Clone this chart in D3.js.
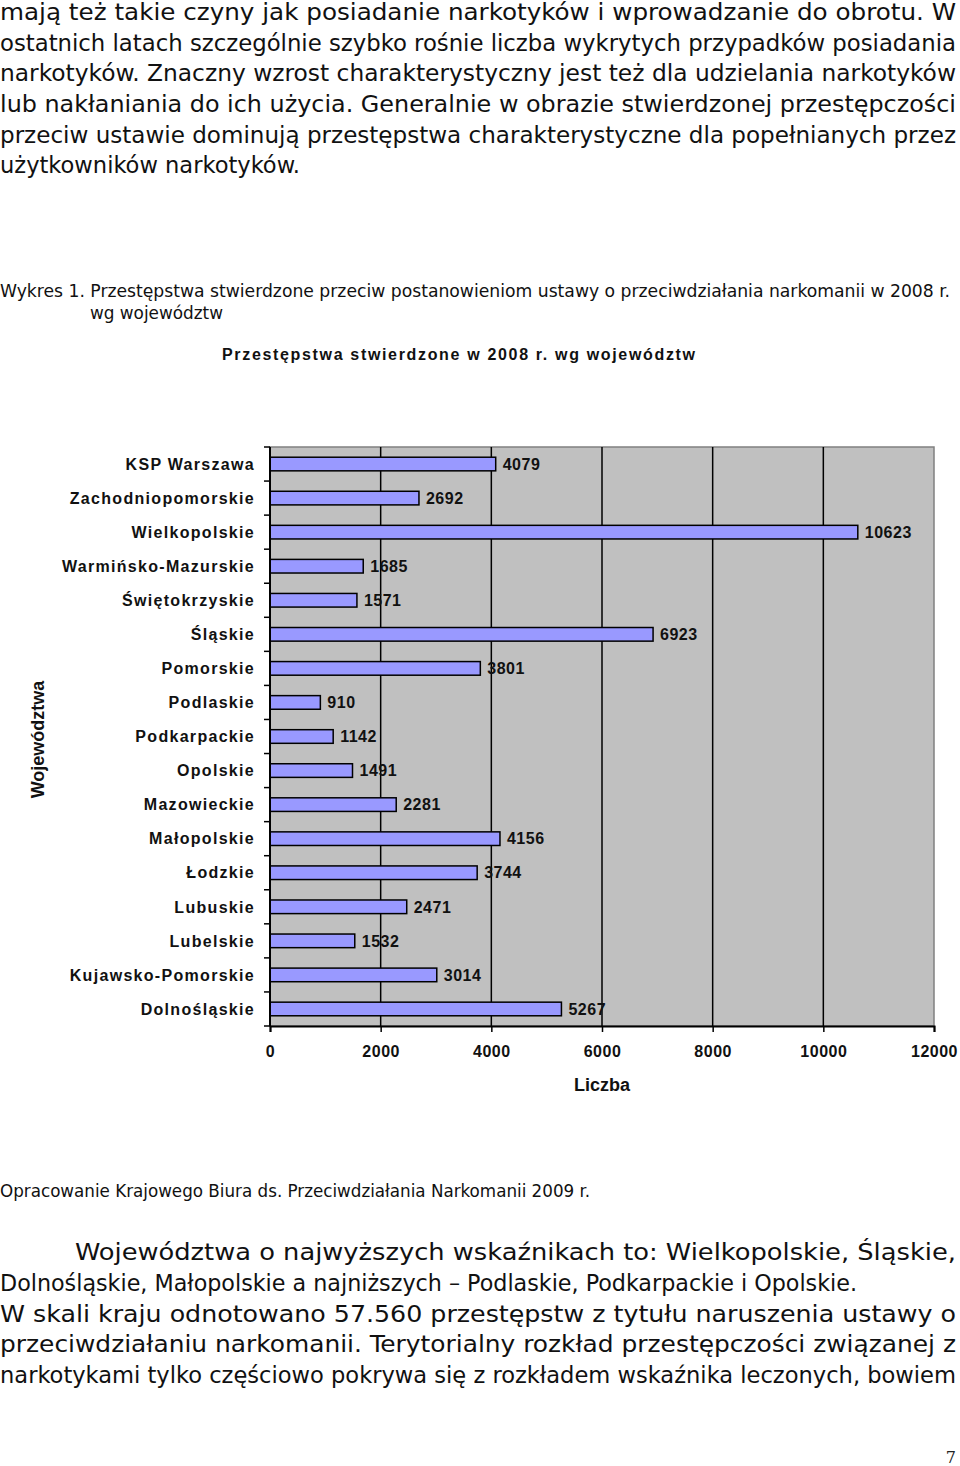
<!DOCTYPE html>
<html>
<head>
<meta charset="utf-8">
<script src="https://cdn.jsdelivr.net/npm/d3@7"></script>
<style>
  body { margin: 0; background: #fff; }
  svg { display: block; }
  .chart-text { font-family: "Liberation Sans", Arial, Helvetica, sans-serif; font-weight: bold; }
  .body-text { font-family: "DejaVu Sans Condensed", "DejaVu Sans", sans-serif; font-stretch: condensed; }
</style>
</head>
<body>
<div id="wrapper"></div>
<script>
// wojewodztwa, top to bottom as in the chart
const categories = [
  "KSP Warszawa", "Zachodniopomorskie", "Wielkopolskie", "Warmińsko-Mazurskie",
  "Świętokrzyskie", "Śląskie", "Pomorskie", "Podlaskie", "Podkarpackie",
  "Opolskie", "Mazowieckie", "Małopolskie", "Łodzkie", "Lubuskie",
  "Lubelskie", "Kujawsko-Pomorskie", "Dolnośląskie"
];
const values = [
  4079, 2692, 10623, 1685, 1571, 6923, 3801, 910, 1142,
  1491, 2281, 4156, 3744, 2471, 1532, 3014, 5267
];
const xTicks = [0, 2000, 4000, 6000, 8000, 10000, 12000];

const chartTitle = "Przestępstwa stwierdzone w 2008 r. wg województw";
const xTitle = "Liczba";
const yTitle = "Województwa";

// page text around the chart: [text, y, x, width (null = natural)]
const topLines = [
  ["mają też takie czyny jak posiadanie narkotyków i wprowadzanie do obrotu. W", 20, 0, 956],
  ["ostatnich latach szczególnie szybko rośnie liczba wykrytych przypadków posiadania", 51, 0, 956],
  ["narkotyków. Znaczny wzrost charakterystyczny jest też dla udzielania  narkotyków", 81, 0, 956],
  ["lub nakłaniania do ich użycia. Generalnie w obrazie stwierdzonej przestępczości", 112, 0, 956],
  ["przeciw ustawie dominują przestępstwa charakterystyczne dla popełnianych przez", 143, 0, 956],
  ["użytkowników narkotyków.", 173, 0, 300]
];
const bottomLines = [
  ["Województwa o najwyższych wskaźnikach to: Wielkopolskie, Śląskie,", 1260, 75, 881],
  ["Dolnośląskie, Małopolskie a najniższych – Podlaskie, Podkarpackie i Opolskie.", 1291, 0, 857],
  ["W skali kraju odnotowano 57.560 przestępstw z tytułu naruszenia ustawy o", 1322, 0, 956],
  ["przeciwdziałaniu narkomanii. Terytorialny rozkład przestępczości związanej z", 1352, 0, 956],
  ["narkotykami tylko częściowo pokrywa się z rozkładem wskaźnika leczonych, bowiem", 1383, 0, 956]
];

const W = 960, H = 1466;

const svg = d3.select("#wrapper").append("svg")
  .attr("width", W).attr("height", H);

function addLine(g, d, size) {
  const t = g.append("text")
    .attr("class", "body-text")
    .attr("x", d[2]).attr("y", d[1])
    .attr("font-size", size)
    .attr("fill", "#111")
    .text(d[0]);
  if (d[3]) t.attr("textLength", d[3]).attr("lengthAdjust", "spacingAndGlyphs");
}

const topG = svg.append("g");
topLines.forEach(d => addLine(topG, d, 23));
const botG = svg.append("g");
bottomLines.forEach(d => addLine(botG, d, 23));

// caption + source
addLine(svg, ["Wykres 1. Przestępstwa stwierdzone przeciw postanowieniom ustawy o przeciwdziałania narkomanii w 2008 r.", 297, 0, 950], 17);
addLine(svg, ["wg województw", 319, 90, 133], 17);
addLine(svg, ["Opracowanie Krajowego Biura ds. Przeciwdziałania Narkomanii 2009 r.", 1197, 0, 590], 17);

svg.append("text")
  .attr("x", 956).attr("y", 1463)
  .attr("text-anchor", "end")
  .style("font-family", "'DejaVu Serif', 'Liberation Serif', serif")
  .attr("font-size", 16)
  .attr("fill", "#222")
  .text("7");

// ---- the chart ----
const plot = { left: 270, right: 934, top: 447, bottom: 1026 };

const xScale = d3.scaleLinear()
  .domain([0, 12000])
  .range([plot.left, plot.right]);
const yScale = d3.scaleBand()
  .domain(categories)
  .range([plot.top, plot.bottom])
  .paddingInner(0.6)
  .paddingOuter(0.3);

svg.append("text")
  .attr("class", "chart-text")
  .attr("x", 222).attr("y", 360)
  .attr("font-size", 16)
  .attr("fill", "#111")
  .attr("textLength", 473)
  .attr("lengthAdjust", "spacing")
  .text(chartTitle);

// plot background
svg.append("rect")
  .attr("x", plot.left).attr("y", plot.top)
  .attr("width", plot.right - plot.left)
  .attr("height", plot.bottom - plot.top)
  .attr("fill", "#c0c0c0")
  .attr("stroke", "#808080")
  .attr("stroke-width", 1.5);

// gridlines
svg.append("g")
  .selectAll("line")
  .data(xTicks.slice(1, -1))
  .join("line")
  .attr("x1", d => xScale(d)).attr("x2", d => xScale(d))
  .attr("y1", plot.top).attr("y2", plot.bottom)
  .attr("stroke", "#000")
  .attr("stroke-width", 1.5);

// bars
svg.append("g")
  .selectAll("rect")
  .data(values)
  .join("rect")
  .attr("x", xScale(0))
  .attr("y", (d, i) => yScale(categories[i]))
  .attr("width", d => xScale(d) - xScale(0))
  .attr("height", yScale.bandwidth())
  .attr("fill", "#9999ff")
  .attr("stroke", "#000")
  .attr("stroke-width", 1.5);

// value labels
svg.append("g")
  .selectAll("text")
  .data(values)
  .join("text")
  .attr("class", "chart-text")
  .attr("x", d => xScale(d) + 7)
  .attr("y", (d, i) => yScale(categories[i]) + yScale.bandwidth() / 2)
  .attr("dy", "0.36em")
  .attr("font-size", 16)
  .attr("letter-spacing", 0.5)
  .attr("fill", "#111")
  .text(d => d);

// x axis
const xAxis = svg.append("g")
  .attr("transform", `translate(0,${plot.bottom})`)
  .call(d3.axisBottom(xScale).tickValues(xTicks).tickFormat(d3.format("d")).tickSize(6).tickPadding(14));
xAxis.select(".domain").attr("stroke", "#000").attr("stroke-width", 2);
xAxis.selectAll(".tick line").attr("stroke", "#000").attr("stroke-width", 1.5);
xAxis.selectAll(".tick text")
  .attr("class", "chart-text")
  .attr("font-size", 16)
  .attr("letter-spacing", 0.5)
  .attr("fill", "#111");

// y axis: line, ticks at band boundaries, category labels
const yAxis = svg.append("g");
yAxis.append("line")
  .attr("x1", plot.left).attr("x2", plot.left)
  .attr("y1", plot.top).attr("y2", plot.bottom)
  .attr("stroke", "#000").attr("stroke-width", 2);
const step = yScale.step();
yAxis.selectAll(".ytick")
  .data(d3.range(categories.length + 1))
  .join("line")
  .attr("class", "ytick")
  .attr("x1", plot.left - 6).attr("x2", plot.left)
  .attr("y1", i => plot.top + i * step)
  .attr("y2", i => plot.top + i * step)
  .attr("stroke", "#000").attr("stroke-width", 1.5);
yAxis.selectAll(".ylabel")
  .data(categories)
  .join("text")
  .attr("class", "ylabel chart-text")
  .attr("x", 255)
  .attr("y", d => yScale(d) + yScale.bandwidth() / 2)
  .attr("dy", "0.36em")
  .attr("text-anchor", "end")
  .attr("font-size", 16)
  .attr("letter-spacing", 1.3)
  .attr("fill", "#111")
  .text(d => d);

// axis titles
svg.append("text")
  .attr("class", "chart-text")
  .attr("x", (plot.left + plot.right) / 2)
  .attr("y", 1091)
  .attr("text-anchor", "middle")
  .attr("font-size", 18)
  .attr("fill", "#111")
  .text(xTitle);

svg.append("text")
  .attr("class", "chart-text")
  .attr("transform", `translate(44,${(plot.top + plot.bottom) / 2 + 3}) rotate(-90)`)
  .attr("text-anchor", "middle")
  .attr("font-size", 18)
  .attr("fill", "#111")
  .text(yTitle);
</script>
</body>
</html>
